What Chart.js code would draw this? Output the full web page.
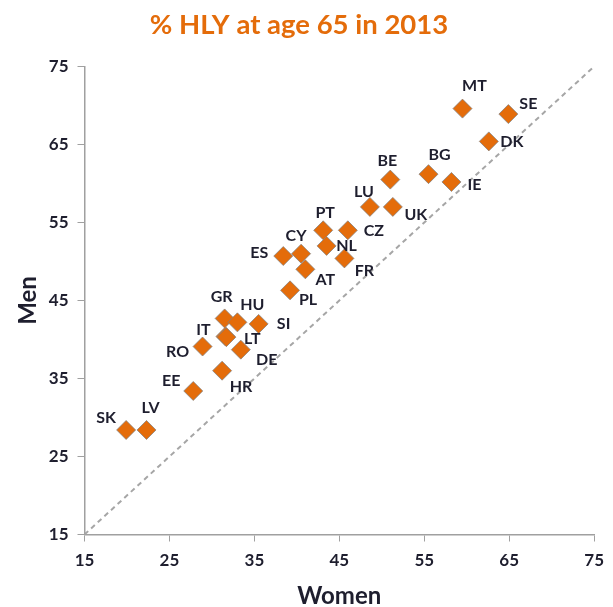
<!DOCTYPE html>
<html>
<head>
<meta charset="utf-8">
<script src="https://cdn.jsdelivr.net/npm/chart.js@4"></script>
<style>
  html, body { margin: 0; padding: 0; background: #fff; }
  #wrap { width: 613px; height: 607px; }
</style>
</head>
<body>
<div id="wrap"><canvas id="hlyChart" width="613" height="607"></canvas></div>
<script>
// HLY at age 65 in 2013, as % of life expectancy
const countries = ['SK', 'LV', 'EE', 'HR', 'RO', 'IT', 'LT', 'DE', 'GR', 'HU', 'SI', 'PL', 'AT', 'ES',
    'CY', 'PT', 'CZ', 'NL', 'FR', 'LU', 'UK', 'BE', 'BG', 'IE', 'MT', 'SE', 'DK'];
const women = [19.9, 22.3, 27.8, 31.2, 28.9, 31.6, 31.7, 33.4, 31.5, 33.0, 35.5, 39.2, 41.0, 38.4,
    40.5, 43.1, 46.0, 43.5, 45.6, 48.6, 51.3, 51.0, 55.5, 58.2, 59.5, 64.9, 62.6];
const men = [28.4, 28.4, 33.4, 36.0, 39.1, 40.4, 40.3, 38.7, 42.7, 42.2, 42.0, 46.3, 49.0, 50.7,
    51.0, 54.0, 54.0, 52.0, 50.4, 57.0, 57.0, 60.5, 61.2, 60.2, 69.6, 68.9, 65.4];
const axisTicks = [15, 25, 35, 45, 55, 65, 75];
const parity = [15, 75];

// where each country code sits relative to its marker (px)
const labelOffsets = [[-20, -12], [4, -22], [-22, -10], [19, 16], [-25, 5], [-22, -7], [26, 2], [26, 10],
    [-3, -22], [15, -17], [25, 0], [18, 9], [20, 11], [-24, -3], [-5, -18], [2, -17], [26, 1], [20, 0],
    [20, 12], [-6, -15], [23, 8], [-3, -19], [11, -19], [23, 3], [12, -23], [20, -10], [23, 0]];

const orange = '#E46C0A';
const ink = '#1E1E2E';
const axisGrey = '#A0A0A0';
const fontFamily = 'Lato, "Open Sans", sans-serif';

const points = countries.map((c, i) => ({x: women[i], y: men[i]}));

const codeLabels = {
    id: 'codeLabels',
    afterDatasetsDraw(chart) {
        const ctx = chart.ctx;
        const meta = chart.getDatasetMeta(1);
        ctx.save();
        ctx.font = 'bold 16px ' + fontFamily;
        ctx.fillStyle = ink;
        ctx.textAlign = 'center';
        ctx.textBaseline = 'middle';
        meta.data.forEach((pt, i) => {
            const off = labelOffsets[i];
            ctx.fillText(countries[i], pt.x + off[0], pt.y + off[1]);
        });
        ctx.restore();
    }
};

const tickFont = {family: fontFamily, size: 17, weight: 'bold'};

new Chart(document.getElementById('hlyChart'), {
    type: 'scatter',
    data: {
        datasets: [{
            type: 'line',
            data: parity.map(v => ({x: v, y: v})),
            borderColor: '#A6A6A6',
            borderWidth: 2,
            borderDash: [5, 4],
            pointRadius: 0,
            fill: false,
            order: 2,
        }, {
            data: points,
            pointStyle: 'rectRot',
            pointRadius: 9.5,
            pointHoverRadius: 9.5,
            backgroundColor: orange,
            borderColor: 'rgba(130,130,130,0.75)',
            borderWidth: 1,
            order: 1,
        }],
    },
    options: {
        responsive: false,
        animation: false,
        layout: {padding: {left: 0, right: 15, top: 0, bottom: 0}},
        plugins: {
            legend: {display: false},
            tooltip: {enabled: false},
            title: {
                display: true,
                text: '% HLY at age 65 in 2013',
                color: orange,
                font: {family: fontFamily, size: 27.5, weight: 'bold', lineHeight: 1.2},
                padding: {top: 9, bottom: 24.5},
            },
        },
        scales: {
            x: {
                type: 'linear',
                min: 15,
                max: 75,
                afterBuildTicks: s => { s.ticks = axisTicks.map(v => ({value: v})); },
                afterFit: s => { s.height = 72.5; },
                ticks: {color: ink, font: tickFont, padding: 9},
                grid: {drawOnChartArea: false, drawTicks: true, tickLength: 7, color: axisGrey},
                border: {display: true, color: axisGrey, width: 1.5},
                title: {
                    display: true,
                    text: 'Women',
                    color: ink,
                    font: {family: fontFamily, size: 24, weight: 'bold', lineHeight: 0.9},
                    padding: {top: 0, bottom: 0},
                },
            },
            y: {
                type: 'linear',
                min: 15,
                max: 75,
                afterBuildTicks: s => { s.ticks = axisTicks.map(v => ({value: v})); },
                afterFit: s => { s.width = 84.5; },
                ticks: {color: ink, font: tickFont, padding: 9},
                grid: {drawOnChartArea: false, drawTicks: true, tickLength: 7, color: axisGrey},
                border: {display: true, color: axisGrey, width: 1.5},
                title: {
                    display: true,
                    text: 'Men',
                    color: ink,
                    font: {family: fontFamily, size: 24, weight: 'bold', lineHeight: 1},
                    padding: {top: 16, bottom: 0},
                },
            },
        },
    },
    plugins: [codeLabels],
});
</script>
</body>
</html>
